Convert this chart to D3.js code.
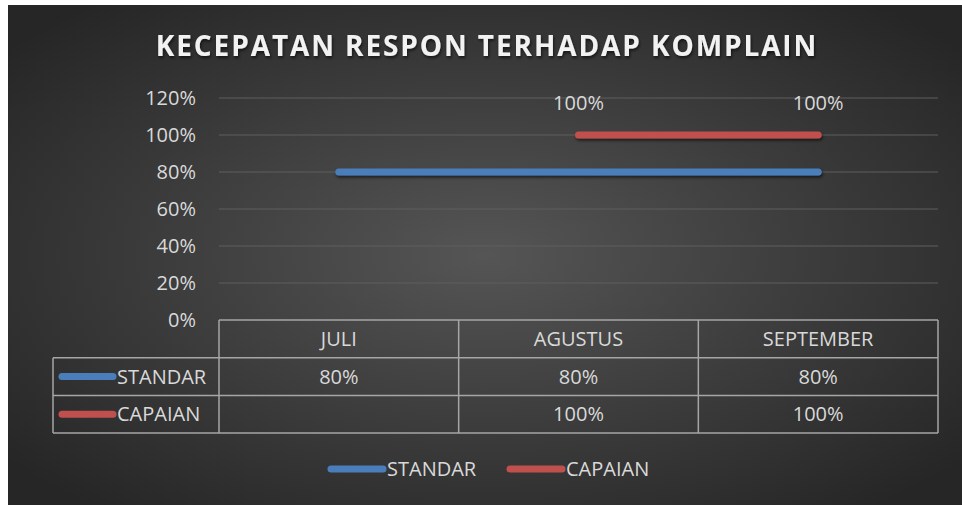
<!DOCTYPE html>
<html>
<head>
<meta charset="utf-8">
<script src="https://cdn.jsdelivr.net/npm/d3@7"></script>
<style>
  body { margin: 0; background: #fff; }
  svg text { font-family: "Open Sans", "Noto Sans", sans-serif; fill: #d9d9d9; }
</style>
</head>
<body>
<div id="chart"></div>
<script>
const months = ["JULI", "AGUSTUS", "SEPTEMBER"];
const standar = [0.8, 0.8, 0.8];
const capaian = [null, 1.0, 1.0];
const yTicks = [0, 0.2, 0.4, 0.6, 0.8, 1.0, 1.2];
const seriesNames = ["STANDAR", "CAPAIAN"];
const seriesColors = ["#4a7ebb", "#c0504d"];

const W = 962, H = 505;
const plot = { left: 219, right: 938, top: 98, bottom: 320 };
const rowH = 37.7;
const fs = 20;

const svg = d3.select("#chart").append("svg")
  .attr("width", W).attr("height", H);

const defs = svg.append("defs");
const grad = defs.append("radialGradient").attr("id", "bg")
  .attr("cx", "50%").attr("cy", "50%").attr("r", "65%");
grad.append("stop").attr("offset", "0%").attr("stop-color", "#555555");
grad.append("stop").attr("offset", "100%").attr("stop-color", "#262626");
const shadow = defs.append("filter").attr("id", "shadow")
  .attr("filterUnits", "userSpaceOnUse")
  .attr("x", 0).attr("y", 0).attr("width", W).attr("height", H);
shadow.append("feDropShadow").attr("dx", 1).attr("dy", 2)
  .attr("stdDeviation", 1.5).attr("flood-color", "#000").attr("flood-opacity", 0.6);

svg.append("rect").attr("x", 8).attr("y", 5)
  .attr("width", W - 8).attr("height", H - 5)
  .attr("fill", "url(#bg)");

svg.append("text")
  .attr("x", 487).attr("y", 56)
  .attr("text-anchor", "middle")
  .attr("font-size", 28).attr("font-weight", "bold")
  .attr("letter-spacing", 1.9)
  .style("fill", "#f2f2f2")
  .attr("filter", "url(#shadow)")
  .text("KECEPATAN RESPON TERHADAP KOMPLAIN");

const x = d3.scaleBand().domain(months).range([plot.left, plot.right]);
const y = d3.scaleLinear().domain([0, 1.2]).range([plot.bottom, plot.top]);
const cx = m => x(m) + x.bandwidth() / 2;

// gridlines
svg.append("g").selectAll("line").data(yTicks.slice(1)).join("line")
  .attr("x1", plot.left).attr("x2", plot.right)
  .attr("y1", d => y(d)).attr("y2", d => y(d))
  .attr("stroke", "#5e5e5e").attr("stroke-width", 1);

// y axis labels
svg.append("g").selectAll("text").data(yTicks).join("text")
  .attr("x", 196).attr("y", d => y(d))
  .attr("dy", "0.35em")
  .attr("text-anchor", "end")
  .attr("font-size", fs)
  .text(d => d3.format(".0%")(d));

// lines
const line = d3.line()
  .defined(d => d.v != null)
  .x(d => cx(d.m)).y(d => y(d.v));
[standar, capaian].forEach((vals, i) => {
  svg.append("path")
    .datum(months.map((m, j) => ({ m, v: vals[j] })))
    .attr("d", line)
    .attr("fill", "none")
    .attr("stroke", seriesColors[i])
    .attr("stroke-width", 7)
    .attr("stroke-linecap", "round")
    .attr("filter", "url(#shadow)");
});

// data labels for capaian
svg.append("g").selectAll("text")
  .data(months.map((m, j) => ({ m, v: capaian[j] })).filter(d => d.v != null))
  .join("text")
  .attr("x", d => cx(d.m)).attr("y", d => y(d.v) - 32)
  .attr("dy", "0.35em")
  .attr("text-anchor", "middle")
  .attr("font-size", fs)
  .text(d => d3.format(".0%")(d.v));

// data table
const tbl = svg.append("g")
  .attr("stroke", "#a6a6a6").attr("stroke-width", 1.5).attr("fill", "none");
const tTop = plot.bottom;
const rows = [standar, capaian];
const tableBottom = tTop + rowH * 3;
tbl.append("line").attr("x1", plot.left).attr("x2", plot.right).attr("y1", tTop).attr("y2", tTop);
[1, 2, 3].forEach(r => {
  tbl.append("line").attr("x1", 53).attr("x2", plot.right)
    .attr("y1", tTop + rowH * r).attr("y2", tTop + rowH * r);
});
tbl.append("line").attr("x1", 53).attr("x2", 53).attr("y1", tTop + rowH).attr("y2", tableBottom);
months.forEach(m => {
  tbl.append("line").attr("x1", x(m)).attr("x2", x(m)).attr("y1", tTop).attr("y2", tableBottom);
});
tbl.append("line").attr("x1", plot.right).attr("x2", plot.right).attr("y1", tTop).attr("y2", tableBottom);

// table header
svg.append("g").selectAll("text").data(months).join("text")
  .attr("x", cx).attr("y", tTop + rowH / 2).attr("dy", "0.35em")
  .attr("text-anchor", "middle").attr("font-size", fs)
  .text(d => d);

// table rows
rows.forEach((vals, i) => {
  const ry = tTop + rowH * (i + 1.5);
  svg.append("line")
    .attr("x1", 62).attr("x2", 113).attr("y1", ry).attr("y2", ry)
    .attr("stroke", seriesColors[i]).attr("stroke-width", 7).attr("stroke-linecap", "round");
  svg.append("text").attr("x", 117).attr("y", ry).attr("dy", "0.35em")
    .attr("font-size", fs).text(seriesNames[i]);
  svg.append("g").selectAll("text")
    .data(months.map((m, j) => ({ m, v: vals[j] })).filter(d => d.v != null))
    .join("text")
    .attr("x", d => cx(d.m)).attr("y", ry).attr("dy", "0.35em")
    .attr("text-anchor", "middle").attr("font-size", fs)
    .text(d => d3.format(".0%")(d.v));
});

// legend
const legendY = 469;
const legendX = [331, 510];
seriesNames.forEach((name, i) => {
  svg.append("line")
    .attr("x1", legendX[i]).attr("x2", legendX[i] + 52)
    .attr("y1", legendY).attr("y2", legendY)
    .attr("stroke", seriesColors[i]).attr("stroke-width", 7).attr("stroke-linecap", "round");
  svg.append("text").attr("x", legendX[i] + 56).attr("y", legendY).attr("dy", "0.35em")
    .attr("font-size", fs).text(name);
});
</script>
</body>
</html>
